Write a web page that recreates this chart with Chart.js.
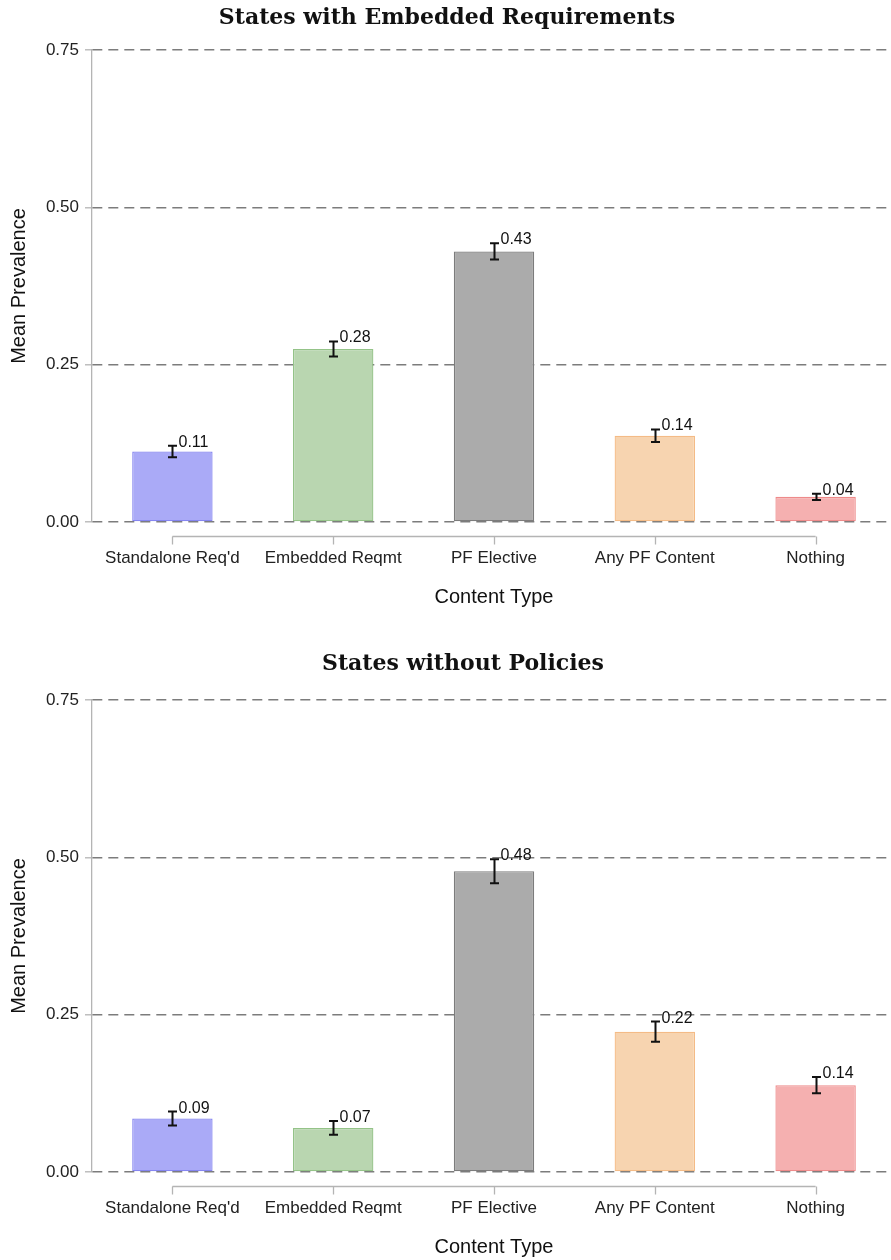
<!DOCTYPE html>
<html>
<head>
<meta charset="utf-8">
<script src="https://cdn.jsdelivr.net/npm/chart.js@4.4.1/dist/chart.umd.min.js"></script>
<style>
  html, body { margin: 0; padding: 0; background: #ffffff; width: 891px; height: 1260px; overflow: hidden; }
  .box { position: absolute; left: 0; width: 896px; height: 630px; overflow: hidden; }
  canvas { display: block; }
</style>
</head>
<body>
<div class="box" style="top:0px"><canvas id="c1" width="896" height="630"></canvas></div>
<div class="box" style="top:650px"><canvas id="c2" width="896" height="630"></canvas></div>
<script>
// ---------- data ----------
const categories = ["Standalone Req'd", "Embedded Reqmt", "PF Elective", "Any PF Content", "Nothing"];
const yTicks = [0, 0.25, 0.5, 0.75];

const embeddedTitle = "States with Embedded Requirements";
const embeddedMeans = [0.112, 0.275, 0.430, 0.137, 0.040];
const embeddedErrors = [0.009, 0.012, 0.013, 0.010, 0.005];
const embeddedLabels = ["0.11", "0.28", "0.43", "0.14", "0.04"];

const noPolicyTitle = "States without Policies";
const noPolicyMeans = [0.085, 0.070, 0.478, 0.223, 0.138];
const noPolicyErrors = [0.011, 0.011, 0.019, 0.016, 0.013];
const noPolicyLabels = ["0.09", "0.07", "0.48", "0.22", "0.14"];

const fillColors = ["#aaaaf7", "#b9d6b0", "#ababab", "#f7d4b0", "#f5b0b0"];
const borderColors = ["#8585f0", "#94c388", "#7c7c7c", "#f4bb86", "#ee8a8a"];

const SANS = "'Liberation Sans', Arial, Helvetica, sans-serif";
const SERIF = "'DejaVu Serif', 'Liberation Serif', serif";

// ---------- plugins ----------
const extrasPlugin = {
  id: 'extras',
  afterDraw(chart) {
    const ctx = chart.ctx;
    const xs = chart.scales.x, ys = chart.scales.y;
    const cfg = chart.options.plugins.extras;
    const area = chart.chartArea;

    // chart title
    ctx.save();
    ctx.fillStyle = '#111111';
    ctx.font = "bold 22px " + SERIF;
    ctx.textAlign = 'center';
    ctx.textBaseline = 'middle';
    ctx.fillText(cfg.title, cfg.titleX, cfg.titleY);
    ctx.restore();

    // x axis line spanning first to last category, with ticks
    const xFirst = xs.getPixelForValue(0);
    const xLast = xs.getPixelForValue(categories.length - 1);
    const axisY = area.bottom + 14.5;
    ctx.save();
    ctx.strokeStyle = '#b4b4b4';
    ctx.lineWidth = 1.3;
    ctx.beginPath();
    ctx.moveTo(xFirst, axisY);
    ctx.lineTo(xLast, axisY);
    for (let i = 0; i < categories.length; i++) {
      const px = Math.round(xs.getPixelForValue(i)) + 0.5;
      ctx.moveTo(px, axisY);
      ctx.lineTo(px, axisY + 8);
    }
    ctx.stroke();
    ctx.restore();

    // error bars + value labels
    const meta = chart.getDatasetMeta(0);
    ctx.save();
    ctx.strokeStyle = '#111111';
    ctx.lineWidth = 2;
    ctx.fillStyle = '#111111';
    ctx.font = "16px " + SANS;
    ctx.textAlign = 'left';
    ctx.textBaseline = 'alphabetic';
    meta.data.forEach((bar, i) => {
      const v = cfg.means[i], e = cfg.errors[i];
      const cx = Math.round(bar.x) + 0.5;
      const yHi = ys.getPixelForValue(v + e);
      const yLo = ys.getPixelForValue(v - e);
      ctx.beginPath();
      ctx.moveTo(cx, yHi); ctx.lineTo(cx, yLo);
      ctx.moveTo(cx - 4.5, yHi); ctx.lineTo(cx + 4.5, yHi);
      ctx.moveTo(cx - 4.5, yLo); ctx.lineTo(cx + 4.5, yLo);
      ctx.stroke();
      ctx.fillText(cfg.labels[i], cx + 6, yHi + 1);
    });
    ctx.restore();
  }
};

function makeChart(id, title, means, errors, labels, titleX, titleY) {
  return new Chart(document.getElementById(id), {
    type: 'bar',
    data: {
      labels: categories,
      datasets: [{
        data: means,
        backgroundColor: fillColors,
        borderColor: borderColors,
        borderWidth: 1.3,
        borderSkipped: false,
        barPercentage: 0.5,
        categoryPercentage: 1.0
      }]
    },
    plugins: [extrasPlugin],
    options: {
      responsive: false,
      animation: false,
      devicePixelRatio: 1,
      layout: { padding: { top: 50, left: 0, right: 0, bottom: 0 } },
      plugins: {
        legend: { display: false },
        tooltip: { enabled: false },
        title: { display: false },
        extras: { title: title, titleX: titleX, titleY: titleY, means: means, errors: errors, labels: labels }
      },
      scales: {
        x: {
          type: 'category',
          offset: true,
          grid: { display: false, drawTicks: false },
          border: { display: false },
          ticks: {
            color: '#222222',
            font: { family: SANS, size: 17 },
            padding: 26,
            maxRotation: 0,
            autoSkip: false
          },
          title: {
            display: true,
            text: 'Content Type',
            color: '#111111',
            font: { family: SANS, size: 20 },
            padding: { top: 0, bottom: 21 }
          },
          afterFit(scale) { scale.height = 108; }
        },
        y: {
          min: 0,
          max: 0.75,
          z: 1,
          afterBuildTicks(scale) { scale.ticks = yTicks.map(v => ({ value: v })); },
          grid: {
            color: '#7c7c7c',
            lineWidth: 1.6,
            drawTicks: true,
            tickLength: 7,
            tickColor: '#b4b4b4',
            tickWidth: 1.3,
            tickBorderDash: []
          },
          border: { display: true, color: '#b4b4b4', width: 1.3, dash: [10, 6] },
          ticks: {
            color: '#222222',
            font: { family: SANS, size: 17 },
            padding: 6,
            callback: (v) => Number(v).toFixed(2)
          },
          title: {
            display: true,
            text: 'Mean Prevalence',
            color: '#111111',
            font: { family: SANS, size: 20 },
            padding: { top: 7, bottom: 0 }
          },
          afterFit(scale) { scale.width = 92; }
        }
      }
    }
  });
}

makeChart('c1', embeddedTitle, embeddedMeans, embeddedErrors, embeddedLabels, 447, 18);
makeChart('c2', noPolicyTitle, noPolicyMeans, noPolicyErrors, noPolicyLabels, 463, 14);
</script>
</body>
</html>
